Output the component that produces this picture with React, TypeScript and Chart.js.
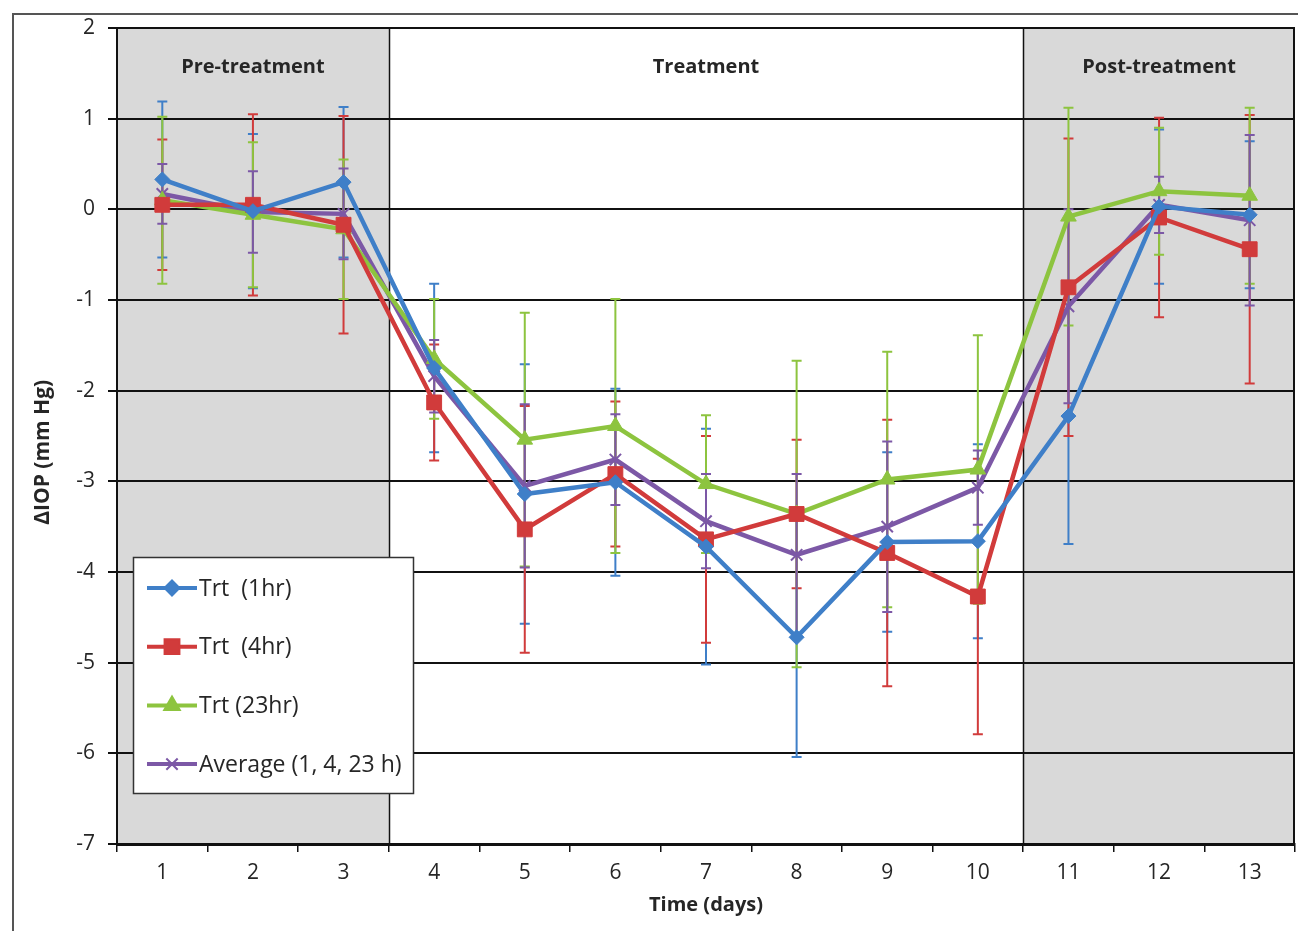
import React, { useEffect, useRef } from "react";
import { Chart, registerables } from "chart.js";
import { drawPoint } from "chart.js/helpers";

Chart.register(...registerables);

const days = ["1", "2", "3", "4", "5", "6", "7", "8", "9", "10", "11", "12", "13"];

const trt1hr = [0.33, -0.02, 0.30, -1.75, -3.14, -3.01, -3.72, -4.72, -3.67, -3.66, -2.28, 0.03, -0.06];
const trt1hrErr = [0.86, 0.85, 0.83, 0.93, 1.43, 1.03, 1.3, 1.32, 0.99, 1.07, 1.41, 0.85, 0.81];

const trt4hr = [0.05, 0.05, -0.17, -2.13, -3.53, -2.92, -3.64, -3.36, -3.79, -4.27, -0.86, -0.09, -0.44];
const trt4hrErr = [0.72, 1.0, 1.2, 0.64, 1.36, 0.8, 1.14, 0.82, 1.47, 1.52, 1.64, 1.1, 1.48];

const trt23hr = [0.1, -0.06, -0.22, -1.65, -2.54, -2.39, -3.03, -3.36, -2.98, -2.87, -0.08, 0.2, 0.15];
const trt23hrErr = [0.92, 0.8, 0.77, 0.66, 1.4, 1.4, 0.76, 1.69, 1.41, 1.48, 1.2, 0.7, 0.97];

const average = [0.17, -0.03, -0.05, -1.84, -3.05, -2.76, -3.44, -3.81, -3.5, -3.07, -1.07, 0.05, -0.12];
const averageErr = [0.33, 0.45, 0.5, 0.4, 0.9, 0.5, 0.52, 0.89, 0.94, 0.41, 1.07, 0.31, 0.94];

const seriesLabels = ["Trt  (1hr)", "Trt  (4hr)", "Trt (23hr)", "Average (1, 4, 23 h)"];
const seriesColors = ["#3f7fc8", "#d13b3b", "#8dc43f", "#7c58a6"];
const seriesPoints = ["rectRot", "rect", "triangle", "crossRot"];
const seriesRadius = [7.5, 10.5, 9, 8];

const phaseLabels = ["Pre-treatment", "Treatment", "Post-treatment"];
const phaseStart = [0, 3, 10];
const phaseEnd = [2, 9, 12];
const phaseShaded = [true, false, true];

const yMin = -7;
const yMax = 2;

const FONT = "'Open Sans', Lato, sans-serif";

const errorSets = [trt1hrErr, trt4hrErr, trt23hrErr, averageErr];

const phasePlugin = {
  id: "phases",
  beforeDraw(chart: any) {
    const { ctx, chartArea: a, scales } = chart;
    const x = scales.x;
    ctx.save();
    ctx.fillStyle = "#ffffff";
    ctx.fillRect(0, 0, chart.width, chart.height);
    ctx.strokeStyle = "#555555";
    ctx.lineWidth = 2;
    ctx.strokeRect(13, 14, chart.width + 20, chart.height + 20);
    ctx.fillStyle = "#d9d9d9";
    for (let i = 0; i < phaseLabels.length; i++) {
      if (!phaseShaded[i]) continue;
      const x0 = x.getPixelForValue(phaseStart[i] - 0.5);
      const x1 = x.getPixelForValue(phaseEnd[i] + 0.5);
      ctx.fillRect(x0, a.top, x1 - x0, a.bottom - a.top);
    }
    ctx.restore();
  },
  beforeDatasetsDraw(chart: any) {
    const { ctx, chartArea: a, scales } = chart;
    const x = scales.x;
    const y = scales.y;
    ctx.save();
    ctx.strokeStyle = "#111111";
    ctx.lineWidth = 1.5;
    for (let i = 1; i < phaseLabels.length; i++) {
      const px = Math.round(x.getPixelForValue(phaseStart[i] - 0.5)) + 0.5;
      ctx.beginPath();
      ctx.moveTo(px, a.top);
      ctx.lineTo(px, a.bottom);
      ctx.stroke();
    }
    ctx.lineWidth = 2;
    ctx.beginPath();
    ctx.moveTo(a.right - 1, a.top);
    ctx.lineTo(a.right - 1, a.bottom);
    ctx.stroke();

    ctx.fillStyle = "#262626";
    ctx.font = `bold 20px ${FONT}`;
    ctx.textAlign = "center";
    ctx.textBaseline = "middle";
    for (let i = 0; i < phaseLabels.length; i++) {
      const x0 = x.getPixelForValue(phaseStart[i] - 0.5);
      const x1 = x.getPixelForValue(phaseEnd[i] + 0.5);
      ctx.fillText(phaseLabels[i], (x0 + x1) / 2, y.getPixelForValue(1.57));
    }

    // error bars
    chart.data.datasets.forEach((ds: any, di: number) => {
      const errs = errorSets[di];
      ctx.strokeStyle = ds.borderColor;
      ctx.lineWidth = 2;
      ds.data.forEach((v: number, i: number) => {
        const px = x.getPixelForValue(i);
        const yt = y.getPixelForValue(v + errs[i]);
        const yb = y.getPixelForValue(v - errs[i]);
        ctx.beginPath();
        ctx.moveTo(px, yt);
        ctx.lineTo(px, yb);
        ctx.moveTo(px - 5, yt);
        ctx.lineTo(px + 5, yt);
        ctx.moveTo(px - 5, yb);
        ctx.lineTo(px + 5, yb);
        ctx.stroke();
      });
    });
    ctx.restore();
  },
  afterDraw(chart: any) {
    const { ctx } = chart;
    const bx = 133, by = 557, bw = 280, bh = 236;
    ctx.save();
    ctx.fillStyle = "#ffffff";
    ctx.fillRect(bx, by, bw, bh);
    ctx.strokeStyle = "#333333";
    ctx.lineWidth = 1.5;
    ctx.strokeRect(bx + 0.5, by + 0.5, bw, bh);
    chart.data.datasets.forEach((ds: any, i: number) => {
      const cy = by + 31 + i * 58.7;
      ctx.strokeStyle = ds.borderColor;
      ctx.lineWidth = 4;
      ctx.beginPath();
      ctx.moveTo(147, cy);
      ctx.lineTo(197, cy);
      ctx.stroke();
      ctx.fillStyle = ds.backgroundColor;
      ctx.strokeStyle = ds.borderColor;
      ctx.lineWidth = 2;
      drawPoint(ctx, { pointStyle: ds.pointStyle, radius: ds.pointRadius, borderWidth: 2, rotation: 0 }, 172, cy);
      ctx.fillStyle = "#262626";
      ctx.font = `23px ${FONT}`;
      ctx.textAlign = "left";
      ctx.textBaseline = "middle";
      ctx.fillText(ds.label, 199, cy + 1);
    });
    ctx.restore();
  },
};

export default function App() {
  const ref = useRef<HTMLCanvasElement>(null);
  useEffect(() => {
    if (!ref.current) return;
    const values = [trt1hr, trt4hr, trt23hr, average];
    const chart = new Chart(ref.current, {
      type: "line",
      data: {
        labels: days,
        datasets: values.map((d, i) => ({
          label: seriesLabels[i],
          data: d,
          borderColor: seriesColors[i],
          backgroundColor: seriesColors[i],
          borderWidth: 4.5,
          pointStyle: seriesPoints[i] as any,
          pointRadius: seriesRadius[i],
          pointBorderWidth: i === 3 ? 2 : 1,
          pointBackgroundColor: seriesColors[i],
          pointBorderColor: seriesColors[i],
          tension: 0,
        })),
      },
      options: {
        animation: false,
        responsive: false,
        layout: { autoPadding: false, padding: { top: 28, left: 12, right: 3, bottom: 0 } },
        plugins: {
          legend: { display: false },
          tooltip: { enabled: false },
        },
        scales: {
          x: {
            type: "category",
            offset: true,
            grid: {
              drawOnChartArea: false,
              drawTicks: true,
              tickLength: 8,
              color: "#111111",
              lineWidth: 1.5,
              offset: true,
            },
            border: { display: true, color: "#111111", width: 3 },
            ticks: { color: "#262626", font: { family: FONT, size: 21 }, padding: 8 },
            title: {
              display: true,
              text: "Time (days)",
              color: "#262626",
              font: { family: FONT, size: 20, weight: "bold" },
              padding: { top: 0, bottom: 14 },
            },
            afterFit: (s: any) => {
              s.height = 87;
              s.paddingLeft = 0;
              s.paddingRight = 0;
            },
          },
          y: {
            min: yMin,
            max: yMax,
            ticks: { stepSize: 1, color: "#262626", font: { family: FONT, size: 21 }, padding: 13 },
            grid: { color: "#111111", lineWidth: 2, tickLength: 9, drawTicks: true },
            border: { display: true, color: "#111111", width: 2 },
            title: {
              display: true,
              text: "ΔIOP (mm Hg)      ",
              color: "#262626",
              font: { family: FONT, size: 21, weight: "bold" },
              padding: { top: 18, bottom: 0 },
            },
            afterFit: (s: any) => {
              s.width = 105;
            },
          },
        },
      },
      plugins: [phasePlugin],
    });
    return () => chart.destroy();
  }, []);
  return (
    <div style={{ position: "absolute", left: 0, top: 0, width: 1298, height: 931, background: "#fff" }}>
      <canvas ref={ref} width={1298} height={931} style={{ display: "block" }} />
    </div>
  );
}
